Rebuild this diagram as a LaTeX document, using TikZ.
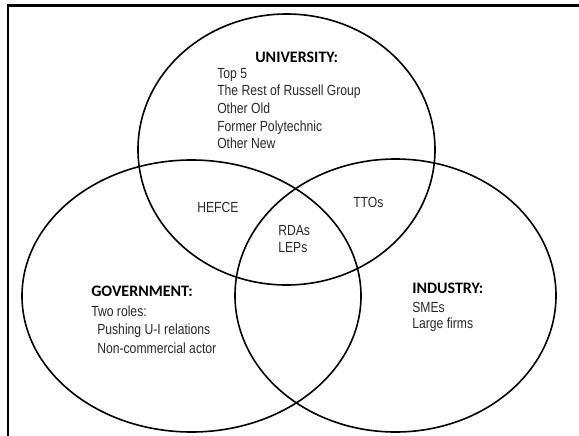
\documentclass[tikz,border=0pt]{standalone}
\usepackage{fontspec}
\usepackage{tikz}
\usetikzlibrary{shapes.geometric}
\newfontfamily\bodyfont{Liberation Sans}[FakeStretch=0.83]
\newfontfamily\headfont{Carlito}
\definecolor{textgray}{RGB}{40, 40, 40}

\begin{document}
\begin{tikzpicture}[
    x=0.75pt, y=-0.75pt,
    venn/.style={ellipse, draw, line width=1.2pt, inner sep=0},
    head/.style={font=\headfont\bfseries\fontsize{12}{14}\selectfont, inner sep=0, anchor=base west},
    item/.style={font=\bodyfont\fontsize{11}{13}\selectfont, text=textgray, inner sep=0, anchor=base west}
]
    \useasboundingbox (0, 0) rectangle (579, 436);

    % Frame
    \draw[line width=1.9pt] (8, 436) -- (8, 5.5) -- (579, 5.5);

    % Sets
    \node[venn, minimum width=222.75pt, minimum height=203.25pt] (uni) at (286.5, 149.5) {};
    \node[venn, minimum width=254.25pt, minimum height=204pt] (gov) at (191.5, 296) {};
    \node[venn, minimum width=240.75pt, minimum height=204.75pt] (ind) at (395.5, 295.5) {};

    % University
    \node[head] (unihead) at (255, 62) {UNIVERSITY:};
    \node[item] (top) at (217, 78) {Top 5};
    \node[item] (russell) at (217, 95) {The Rest of Russell Group};
    \node[item] (old) at (217, 113) {Other Old};
    \node[item] (poly) at (217, 131) {Former Polytechnic};
    \node[item] (new) at (217, 148) {Other New};

    % Government
    \node[head] (govhead) at (91, 296) {GOVERNMENT:};
    \node[item] (roles) at (91, 316) {Two roles:};
    \node[item] (push) at (97, 334) {Pushing U-I relations};
    \node[item] (actor) at (97, 353) {Non-commercial actor};

    % Industry
    \node[head] (indhead) at (412, 293) {INDUSTRY:};
    \node[item] (sme) at (412, 312) {SMEs};
    \node[item] (large) at (412, 328) {Large firms};

    % Overlaps
    \node[item] (hefce) at (197, 212) {HEFCE};
    \node[item] (tto) at (353, 207) {TTOs};
    \node[item] (rda) at (278, 235) {RDAs};
    \node[item] (lep) at (278, 252) {LEPs};
\end{tikzpicture}
\end{document}
